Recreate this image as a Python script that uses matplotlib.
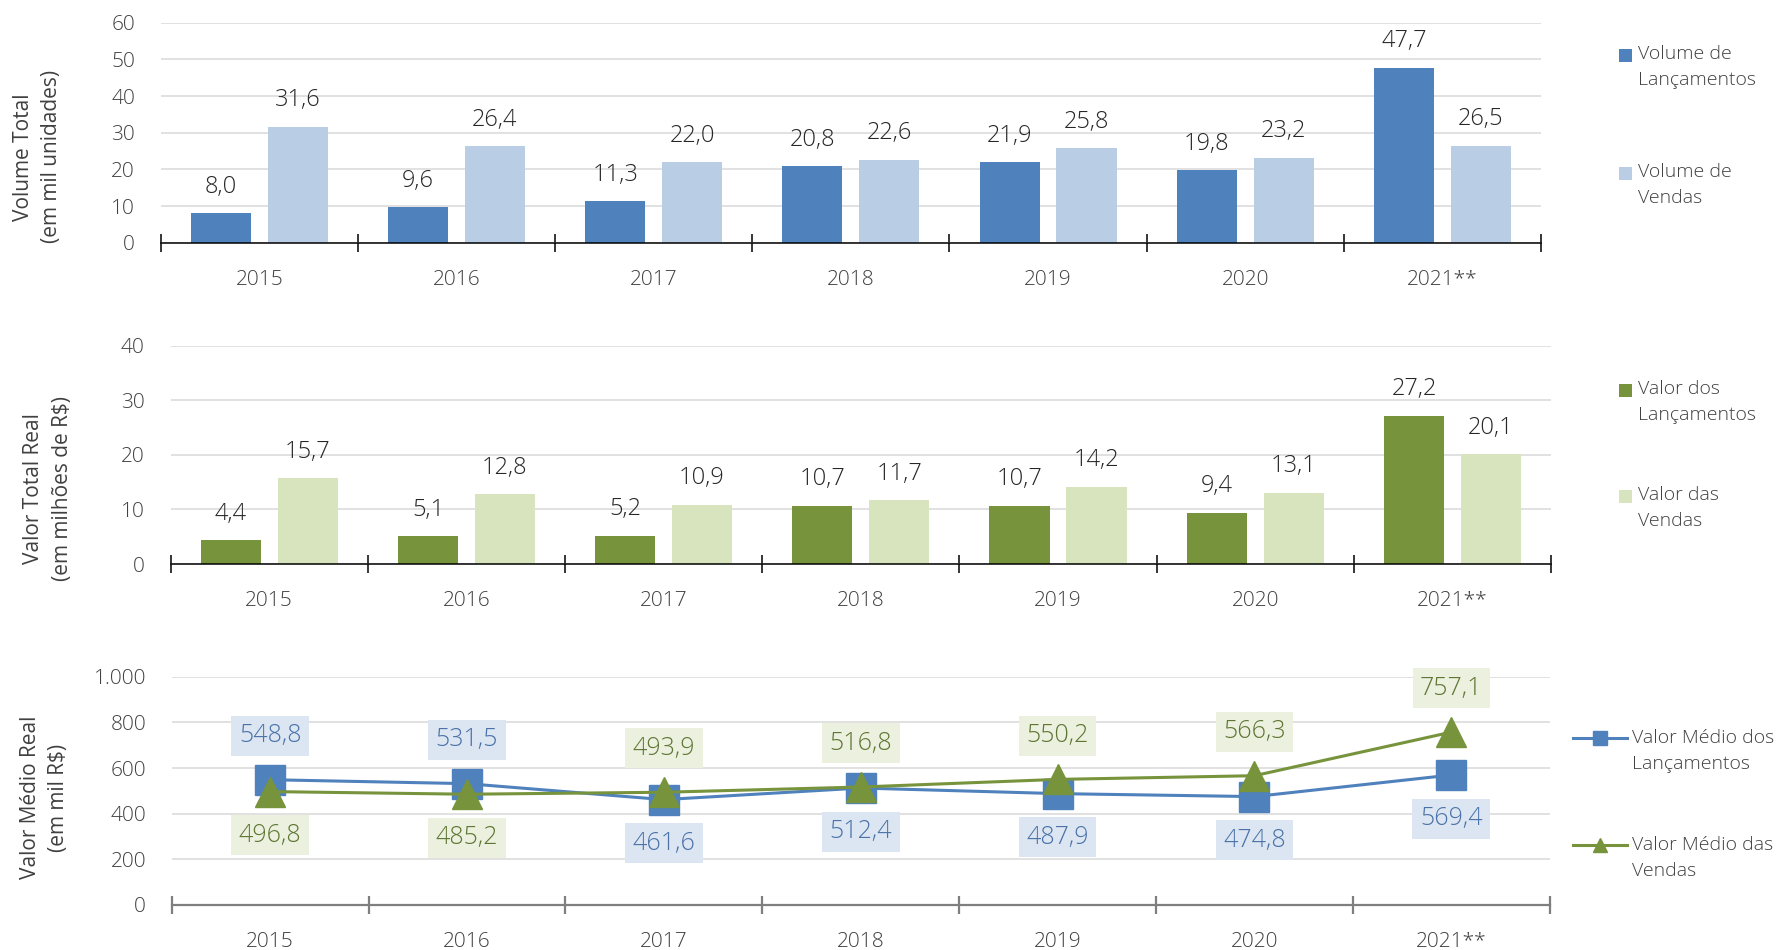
import matplotlib
matplotlib.use('Agg')
import matplotlib.pyplot as plt
import numpy as np
from matplotlib.patches import Rectangle
from matplotlib.legend_handler import HandlerPatch
from matplotlib.ticker import FixedLocator, FixedFormatter, NullFormatter, FuncFormatter

plt.rcParams['font.family'] = ['Open Sans', 'DejaVu Sans']
plt.rcParams['font.weight'] = 'light'

# ---------------- data ----------------
years = ['2015', '2016', '2017', '2018', '2019', '2020', '2021**']
vol_lanc = [8.0, 9.6, 11.3, 20.8, 21.9, 19.8, 47.7]
vol_vend = [31.6, 26.4, 22.0, 22.6, 25.8, 23.2, 26.5]
val_lanc = [4.4, 5.1, 5.2, 10.7, 10.7, 9.4, 27.2]
val_vend = [15.7, 12.8, 10.9, 11.7, 14.2, 13.1, 20.1]
med_lanc = [548.8, 531.5, 461.6, 512.4, 487.9, 474.8, 569.4]
med_vend = [496.8, 485.2, 493.9, 516.8, 550.2, 566.3, 757.1]

TXT = '#404040'
DLBL = '#262626'
W, H = 1783, 950
fig = plt.figure(figsize=(W / 100, H / 100), dpi=100)


def fig_rect(l, t, r, b):
    return [l / W, 1 - b / H, (r - l) / W, (b - t) / H]


ax1 = fig.add_axes(fig_rect(160.7, 22.7, 1541, 242.7))
ax2 = fig.add_axes(fig_rect(170.6, 345.7, 1551, 564))
ax3 = fig.add_axes(fig_rect(171.7, 676.7, 1549.7, 905))


def fmt(v):
    return f"{v:.1f}".replace('.', ',')


def style_axis(ax, ymax, ystep, spine_color, spine_lw, yformatter=None):
    n = len(years)
    ax.set_xlim(-0.5, n - 0.5)
    ax.set_ylim(0, ymax)
    ax.yaxis.set_major_locator(FixedLocator(np.arange(0, ymax + 0.001, ystep)))
    if yformatter is not None:
        ax.yaxis.set_major_formatter(yformatter)
    ax.grid(axis='y', color='#D9D9D9', lw=1.1)
    ax.set_axisbelow(True)
    for s in ['left', 'right', 'top']:
        ax.spines[s].set_visible(False)
    ax.spines['bottom'].set_color(spine_color)
    ax.spines['bottom'].set_linewidth(spine_lw)
    ax.xaxis.set_major_locator(FixedLocator(np.arange(-0.5, n, 1)))
    ax.xaxis.set_major_formatter(NullFormatter())
    ax.xaxis.set_minor_locator(FixedLocator(np.arange(n)))
    ax.xaxis.set_minor_formatter(FixedFormatter(years))
    ax.tick_params(axis='x', which='major', direction='inout', length=13,
                   width=spine_lw, color=spine_color)
    ax.tick_params(axis='x', which='minor', length=0, pad=19.5,
                   labelsize=15, labelcolor=TXT)
    ax.tick_params(axis='y', length=0, pad=18.5, labelsize=15, labelcolor=TXT)


def set_ylab(ax, text, xc, yc):
    ax.set_ylabel(text, fontsize=15, color=TXT, linespacing=1.45)
    ax.yaxis.label.set_va('center')
    ax.yaxis.set_label_coords(xc, yc)


def square_patch(legend, orig_handle, xdescent, ydescent, width, height, fontsize):
    s = 0.66 * fontsize
    return Rectangle((-xdescent + (width - s) / 2, -ydescent + (height - s) / 2), s, s)


def top_align(leg, linespacing=1.57):
    for t in leg.get_texts():
        t.set_linespacing(linespacing)
    try:
        for col in leg._legend_handle_box.get_children():
            for item in col.get_children():
                item.align = 'top'
    except Exception:
        pass


x = np.arange(len(years))
bw = 0.305
off = 0.195
LFS = 14

# ---------------- panel 1 ----------------
style_axis(ax1, 60, 10, 'black', 1.1)
b1 = ax1.bar(x - off, vol_lanc, bw, color='#4F81BD', label='Volume de\nLançamentos')
b2 = ax1.bar(x + off, vol_vend, bw, color='#B9CDE5', label='Volume de\nVendas')
for bars, vals in ((b1, vol_lanc), (b2, vol_vend)):
    for rect, v in zip(bars.patches, vals):
        ax1.annotate(fmt(v), (rect.get_x() + rect.get_width() / 2, v),
                     xytext=(0, 19), textcoords='offset points',
                     ha='center', va='center', fontsize=17, color=DLBL)
set_ylab(ax1, 'Volume Total\n(em mil unidades)', -0.0893, 0.39)
leg1 = ax1.legend([b1.patches[0], b2.patches[0]],
                  ['Volume de\nLançamentos', 'Volume de\nVendas'],
                  handler_map={Rectangle: HandlerPatch(patch_func=square_patch)},
                  loc='upper left', bbox_to_anchor=(1619 / W, 1 - 45.3 / H),
                  bbox_transform=fig.transFigure, frameon=False, fontsize=LFS,
                  labelcolor=TXT, handlelength=0.66, handleheight=1.3,
                  handletextpad=0.32, labelspacing=3.8, borderpad=0, borderaxespad=0)
top_align(leg1)

# ---------------- panel 2 ----------------
style_axis(ax2, 40, 10, 'black', 1.1)
b3 = ax2.bar(x - off, val_lanc, bw, color='#77933C', label='Valor dos\nLançamentos')
b4 = ax2.bar(x + off, val_vend, bw, color='#D7E4BD', label='Valor das\nVendas')
for bars, vals in ((b3, val_lanc), (b4, val_vend)):
    for rect, v in zip(bars.patches, vals):
        ax2.annotate(fmt(v), (rect.get_x() + rect.get_width() / 2, v),
                     xytext=(0, 19), textcoords='offset points',
                     ha='center', va='center', fontsize=17, color=DLBL)
set_ylab(ax2, 'Valor Total Real\n(em milhões de R$)', -0.0888, 0.344)
leg2 = ax2.legend([b3.patches[0], b4.patches[0]],
                  ['Valor dos\nLançamentos', 'Valor das\nVendas'],
                  handler_map={Rectangle: HandlerPatch(patch_func=square_patch)},
                  loc='upper left', bbox_to_anchor=(1619 / W, 1 - 380 / H),
                  bbox_transform=fig.transFigure, frameon=False, fontsize=LFS,
                  labelcolor=TXT, handlelength=0.66, handleheight=1.3,
                  handletextpad=0.32, labelspacing=3.18, borderpad=0, borderaxespad=0)
top_align(leg2)

# ---------------- panel 3 ----------------
thousands = FuncFormatter(lambda v, p: f"{int(v):,}".replace(',', '.'))
style_axis(ax3, 1000, 200, '#7F7F7F', 1.6, thousands)
l1, = ax3.plot(x, med_lanc, color='#4F81BD', lw=2.2, marker='s', ms=21,
               label='Valor Médio dos\nLançamentos', zorder=3)
l2, = ax3.plot(x, med_vend, color='#77933C', lw=2.2, marker='^', ms=21,
               label='Valor Médio das\nVendas', zorder=4)
for i in range(len(years)):
    for vals, other, tc, bc in ((med_lanc, med_vend, '#4A72A8', '#DCE6F2'),
                                (med_vend, med_lanc, '#5E7533', '#EBF1DE')):
        dy = 31.5 if vals[i] > other[i] else -31.5
        ax3.annotate(fmt(vals[i]), (x[i], vals[i]), xytext=(0, dy),
                     textcoords='offset points', ha='center', va='center',
                     fontsize=18, color=tc, zorder=6,
                     bbox=dict(boxstyle='square,pad=0.3', fc=bc, ec='none'))
set_ylab(ax3, 'Valor Médio Real\n(em mil R$)', -0.0922, 0.471)
leg3 = ax3.legend([l1, l2], ['Valor Médio dos\nLançamentos', 'Valor Médio das\nVendas'],
                  loc='upper left', bbox_to_anchor=(1573 / W, 1 - 729 / H),
                  bbox_transform=fig.transFigure, frameon=False, fontsize=LFS,
                  labelcolor=TXT, handlelength=2.8, handleheight=1.3, markerscale=0.45,
                  handletextpad=0.22, labelspacing=3.25, borderpad=0, borderaxespad=0)
top_align(leg3)

fig.savefig('out.png', dpi=100)
